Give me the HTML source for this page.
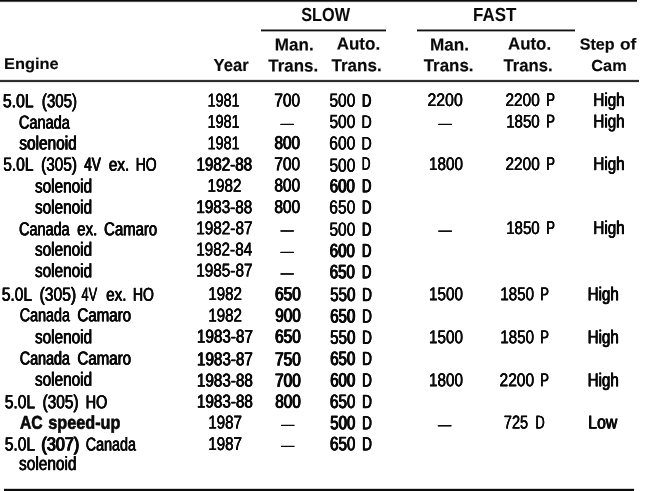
<!DOCTYPE html>
<html lang="en">
<head>
<meta charset="utf-8">
<title>Idle speed specifications</title>
<style>
html,body{margin:0;padding:0;background:#fff;}
body{width:650px;height:491px;overflow:hidden;position:relative;font-family:"Liberation Sans",sans-serif;color:#000;}
#tbl{position:absolute;left:0;top:0;width:650px;height:491px;overflow:hidden;background:#fff;}
.w{position:absolute;left:0;top:0;font-size:20px;line-height:20px;white-space:pre;transform-origin:0 0;color:#0a0a0a;}
.r{font-weight:400;-webkit-text-stroke:0.32px #0a0a0a;text-shadow:0.45px 0 0 #0a0a0a,-0.45px 0 0 #0a0a0a;}
.h0{-webkit-text-stroke-width:0.2px;text-shadow:0.3px 0 0 #0a0a0a,-0.3px 0 0 #0a0a0a;}
.h1{-webkit-text-stroke-width:0.42px;text-shadow:0.55px 0 0 #0a0a0a,-0.55px 0 0 #0a0a0a;}
.h2{-webkit-text-stroke-width:0.6px;text-shadow:0.7px 0 0 #0a0a0a,-0.7px 0 0 #0a0a0a;}
.b{font-weight:700;-webkit-text-stroke:0.18px #0a0a0a;}
.rule{position:absolute;}
</style>
</head>
<body>
<div id="tbl">
<div class="rule" style="left:0px;top:0px;width:637px;height:3px;background:linear-gradient(to bottom,#0c0c0c 0px,#0c0c0c 1px,#505050 1px,#505050 2px,#f0f0f0 2px,#f0f0f0 3px)"></div>
<div class="rule" style="left:261px;top:29px;width:125px;height:3px;background:linear-gradient(to bottom,#8c8c8c 0px,#8c8c8c 1px,#101010 1px,#101010 2px,#a8a8a8 2px,#a8a8a8 3px)"></div>
<div class="rule" style="left:417px;top:29px;width:158px;height:3px;background:linear-gradient(to bottom,#8c8c8c 0px,#8c8c8c 1px,#101010 1px,#101010 2px,#a8a8a8 2px,#a8a8a8 3px)"></div>
<div class="rule" style="left:0px;top:79px;width:639px;height:4px;background:linear-gradient(to bottom,#e4e4e4 0px,#e4e4e4 1px,#303030 1px,#303030 2px,#2c2c2c 2px,#2c2c2c 3px,#eaeaea 3px,#eaeaea 4px)"></div>
<div class="rule" style="left:4px;top:488px;width:630px;height:3px;background:linear-gradient(to bottom,#d0d0d0 0px,#d0d0d0 1px,#0c0c0c 1px,#0c0c0c 2px,#0c0c0c 2px,#0c0c0c 3px)"></div>
<div class="thead">
<div class="tr"><span class="w b" style="transform:matrix(0.8124,0.0005,0,0.9500,301.23,4.95);-webkit-text-stroke:0.05px #0a0a0a">SLOW</span> <span class="w b" style="transform:matrix(0.8459,0.0005,0,0.9500,473.12,4.75);-webkit-text-stroke:0.05px #0a0a0a">FAST</span></div>
<div class="tr"><div class="th"><span class="w b" style="transform:matrix(0.8200,0.0005,0,0.7850,4.01,55.56)">Engine</span></div> <div class="th"><span class="w b" style="transform:matrix(0.8305,0.0005,0,0.8750,213.54,56.03)">Year</span></div> <div class="th"><span class="w b" style="transform:matrix(0.8519,0.0005,0,0.8750,274.87,35.52)">Man.</span> <span class="w b" style="transform:matrix(0.8455,0.0005,0,0.8750,268.31,56.72)">Trans.</span></div> <div class="th"><span class="w b" style="transform:matrix(0.8505,0.0005,0,0.8750,336.65,34.73)">Auto.</span> <span class="w b" style="transform:matrix(0.8525,0.0005,0,0.8750,331.41,56.42)">Trans.</span></div> <div class="th"><span class="w b" style="transform:matrix(0.8589,0.0005,0,0.8750,429.96,35.52)">Man.</span> <span class="w b" style="transform:matrix(0.8455,0.0005,0,0.8750,423.71,56.42)">Trans.</span></div> <div class="th"><span class="w b" style="transform:matrix(0.8424,0.0005,0,0.8750,508.05,34.73)">Auto.</span> <span class="w b" style="transform:matrix(0.8351,0.0005,0,0.8750,503.51,56.42)">Trans.</span></div> <div class="th"><span class="w b" style="transform:matrix(0.8056,0.0005,0,0.7950,579.69,36.09)">Step</span> <span class="w b" style="transform:matrix(0.8643,0.0005,0,0.7950,619.99,36.09)">of</span> <span class="w b" style="transform:matrix(0.8173,0.0005,0,0.8000,591.32,57.40)">Cam</span></div></div>
</div>
<div class="tbody">
<div class="tr"><span class="w r" style="transform:matrix(0.7851,0.0005,0,0.9500,2.95,91.05)">5.0L</span> <span class="w r" style="transform:matrix(0.7530,0.0005,0,0.9500,41.86,91.05)">(305)</span> <span class="w r h0" style="transform:matrix(0.7196,0.0005,0,0.9250,207.61,90.88)">1981</span> <span class="w r" style="transform:matrix(0.7739,0.0005,0,0.9300,274.30,90.59)">700</span> <span class="w r h0" style="transform:matrix(0.7730,0.0005,0,0.9500,329.49,90.65)">500</span> <span class="w r h2" style="transform:matrix(0.6475,0.0005,0,0.9100,362.01,91.33)">D</span> <span class="w r h0" style="transform:matrix(0.7908,0.0005,0,0.9100,427.53,90.53)">2200</span> <span class="w r h0" style="transform:matrix(0.7678,0.0005,0,0.9100,505.54,90.53)">2200</span> <span class="w r h0" style="transform:matrix(0.6522,0.0005,0,0.9300,546.32,90.19)">P</span> <span class="w r" style="transform:matrix(0.7610,0.0005,0,0.9300,593.35,90.19)">High</span></div>
<div class="tr"><span class="w r" style="transform:matrix(0.7263,0.0005,0,0.9300,18.92,112.79)">Canada</span> <span class="w r h0" style="transform:matrix(0.7196,0.0005,0,0.9250,207.61,112.07)">1981</span> <span class="w r h0" style="transform:matrix(0.6538,0.0005,0,0.8000,280.66,114.87)">—</span> <span class="w r h0" style="transform:matrix(0.7730,0.0005,0,0.9500,329.49,111.95)">500</span> <span class="w r h0" style="transform:matrix(0.7087,0.0005,0,0.9100,361.55,112.63)">D</span> <span class="w r h0" style="transform:matrix(0.6635,0.0005,0,0.8000,438.47,114.97)">—</span> <span class="w r h0" style="transform:matrix(0.7535,0.0005,0,0.9100,506.17,112.03)">1850</span> <span class="w r h0" style="transform:matrix(0.6522,0.0005,0,0.9300,546.32,111.69)">P</span> <span class="w r" style="transform:matrix(0.7610,0.0005,0,0.9300,593.35,111.69)">High</span></div>
<div class="tr"><span class="w r h1" style="transform:matrix(0.7704,0.0005,0,0.9600,19.32,133.18)">solenoid</span> <span class="w r h0" style="transform:matrix(0.7196,0.0005,0,0.9250,207.61,133.47)">1981</span> <span class="w r h1" style="transform:matrix(0.7646,0.0005,0,0.9300,274.49,133.19)">800</span> <span class="w r h0" style="transform:matrix(0.7778,0.0005,0,0.9500,329.33,133.35)">600</span> <span class="w r h0" style="transform:matrix(0.7087,0.0005,0,0.9100,361.55,134.03)">D</span></div>
<div class="tr"><span class="w r" style="transform:matrix(0.7748,0.0005,0,0.9500,3.25,154.65)">5.0L</span> <span class="w r" style="transform:matrix(0.7662,0.0005,0,0.9500,41.15,154.65)">(305)</span> <span class="w r h2" style="transform:matrix(0.6757,0.0005,0,0.9500,84.34,154.65)">4V</span> <span class="w r" style="transform:matrix(0.7692,0.0005,0,0.9300,108.78,154.99)">ex.</span> <span class="w r" style="transform:matrix(0.6988,0.0005,0,0.9300,135.71,154.99)">HO</span> <span class="w r h1" style="transform:matrix(0.7584,0.0005,0,0.9250,196.44,154.67)">1982-88</span> <span class="w r" style="transform:matrix(0.7739,0.0005,0,0.9300,274.30,154.39)">700</span> <span class="w r h0" style="transform:matrix(0.7730,0.0005,0,0.9500,329.49,155.55)">500</span> <span class="w r h0" style="transform:matrix(0.6063,0.0005,0,0.9100,361.77,154.23)">D</span> <span class="w r h0" style="transform:matrix(0.7628,0.0005,0,0.9100,428.96,154.43)">1800</span> <span class="w r h0" style="transform:matrix(0.7678,0.0005,0,0.9100,505.54,154.43)">2200</span> <span class="w r h0" style="transform:matrix(0.6522,0.0005,0,0.9300,546.32,154.09)">P</span> <span class="w r" style="transform:matrix(0.7610,0.0005,0,0.9300,593.35,154.09)">High</span></div>
<div class="tr"><span class="w r" style="transform:matrix(0.7667,0.0005,0,0.9600,35.01,176.18)">solenoid</span> <span class="w r h0" style="transform:matrix(0.7617,0.0005,0,0.9250,207.56,175.97)">1982</span> <span class="w r" style="transform:matrix(0.7716,0.0005,0,0.9300,274.38,175.69)">800</span> <span class="w r h2" style="transform:matrix(0.7500,0.0005,0,0.9500,329.80,176.15)">600</span> <span class="w r h2" style="transform:matrix(0.6475,0.0005,0,0.9500,362.01,176.15)">D</span></div>
<div class="tr"><span class="w r" style="transform:matrix(0.7667,0.0005,0,0.9600,35.01,197.18)">solenoid</span> <span class="w r" style="transform:matrix(0.7616,0.0005,0,0.9250,196.32,197.38)">1983-88</span> <span class="w r" style="transform:matrix(0.7716,0.0005,0,0.9300,274.38,197.09)">800</span> <span class="w r h0" style="transform:matrix(0.7778,0.0005,0,0.9500,329.33,197.35)">650</span> <span class="w r h2" style="transform:matrix(0.6475,0.0005,0,0.9500,362.01,197.35)">D</span></div>
<div class="tr"><span class="w r" style="transform:matrix(0.7206,0.0005,0,0.9300,19.12,219.39)">Canada</span> <span class="w r" style="transform:matrix(0.7534,0.0005,0,0.9300,77.18,219.39)">ex.</span> <span class="w r" style="transform:matrix(0.7459,0.0005,0,0.9300,104.11,219.39)">Camaro</span> <span class="w r h0" style="transform:matrix(0.7671,0.0005,0,0.9250,196.16,218.57)">1982-87</span> <span class="w r h0" style="transform:matrix(0.6538,0.0005,0,0.8000,280.66,221.37)">—</span> <span class="w r h0" style="transform:matrix(0.7730,0.0005,0,0.9500,329.49,219.65)">500</span> <span class="w r h2" style="transform:matrix(0.6475,0.0005,0,0.9500,362.01,219.65)">D</span> <span class="w r h0" style="transform:matrix(0.6635,0.0005,0,0.8000,438.47,221.57)">—</span> <span class="w r h0" style="transform:matrix(0.7535,0.0005,0,0.9100,506.17,218.63)">1850</span> <span class="w r h0" style="transform:matrix(0.6522,0.0005,0,0.9300,546.32,218.29)">P</span> <span class="w r" style="transform:matrix(0.7610,0.0005,0,0.9300,593.35,218.29)">High</span></div>
<div class="tr"><span class="w r" style="transform:matrix(0.7667,0.0005,0,0.9600,35.01,239.48)">solenoid</span> <span class="w r h0" style="transform:matrix(0.7628,0.0005,0,0.9250,196.16,239.67)">1982-84</span> <span class="w r h0" style="transform:matrix(0.6538,0.0005,0,0.8000,280.66,242.97)">—</span> <span class="w r h2" style="transform:matrix(0.7500,0.0005,0,0.9500,329.80,240.75)">600</span> <span class="w r h2" style="transform:matrix(0.6475,0.0005,0,0.9500,362.01,240.75)">D</span></div>
<div class="tr"><span class="w r" style="transform:matrix(0.7667,0.0005,0,0.9600,35.01,260.78)">solenoid</span> <span class="w r h0" style="transform:matrix(0.7671,0.0005,0,0.9250,196.16,260.77)">1985-87</span> <span class="w r h0" style="transform:matrix(0.6538,0.0005,0,0.8000,280.66,264.37)">—</span> <span class="w r h2" style="transform:matrix(0.7500,0.0005,0,0.9700,329.80,261.71)">650</span> <span class="w r h2" style="transform:matrix(0.6475,0.0005,0,0.9500,362.01,262.05)">D</span></div>
<div class="tr"><span class="w r" style="transform:matrix(0.7748,0.0005,0,0.9500,1.85,284.55)">5.0L</span> <span class="w r" style="transform:matrix(0.7838,0.0005,0,0.9500,39.54,284.55)">(305)</span> <span class="w r h0" style="transform:matrix(0.6397,0.0005,0,0.9500,81.54,284.55)">4V</span> <span class="w r" style="transform:matrix(0.7613,0.0005,0,0.9300,106.18,284.89)">ex.</span> <span class="w r" style="transform:matrix(0.6988,0.0005,0,0.9300,132.91,284.89)">HO</span> <span class="w r h0" style="transform:matrix(0.7617,0.0005,0,0.9250,208.16,284.27)">1982</span> <span class="w r h2" style="transform:matrix(0.7679,0.0005,0,0.9500,275.10,284.05)">650</span> <span class="w r h1" style="transform:matrix(0.7563,0.0005,0,0.9700,330.17,284.41)">550</span> <span class="w r h1" style="transform:matrix(0.6706,0.0005,0,0.9500,362.24,284.75)">D</span> <span class="w r h0" style="transform:matrix(0.7628,0.0005,0,0.9300,428.96,284.39)">1500</span> <span class="w r h0" style="transform:matrix(0.7628,0.0005,0,0.9300,500.16,284.39)">1850</span> <span class="w r h0" style="transform:matrix(0.6522,0.0005,0,0.9300,540.32,284.39)">P</span> <span class="w r h1" style="transform:matrix(0.7553,0.0005,0,0.9300,587.67,284.39)">High</span></div>
<div class="tr"><span class="w r" style="transform:matrix(0.7177,0.0005,0,0.9300,19.72,305.49)">Canada</span> <span class="w r h1" style="transform:matrix(0.7540,0.0005,0,0.9300,77.42,305.49)">Camaro</span> <span class="w r h0" style="transform:matrix(0.7617,0.0005,0,0.9250,208.16,305.87)">1982</span> <span class="w r h2" style="transform:matrix(0.7656,0.0005,0,0.9500,275.18,305.65)">900</span> <span class="w r h2" style="transform:matrix(0.7500,0.0005,0,0.9700,330.20,306.01)">650</span> <span class="w r h1" style="transform:matrix(0.6706,0.0005,0,0.9500,362.24,306.35)">D</span></div>
<div class="tr"><span class="w r" style="transform:matrix(0.7667,0.0005,0,0.9600,35.01,326.88)">solenoid</span> <span class="w r" style="transform:matrix(0.7626,0.0005,0,0.9250,196.92,326.87)">1983-87</span> <span class="w r h2" style="transform:matrix(0.7679,0.0005,0,0.9500,275.10,326.65)">650</span> <span class="w r h1" style="transform:matrix(0.7563,0.0005,0,0.9700,330.17,327.21)">550</span> <span class="w r h1" style="transform:matrix(0.6706,0.0005,0,0.9500,362.24,327.55)">D</span> <span class="w r h0" style="transform:matrix(0.7628,0.0005,0,0.9300,428.96,327.49)">1500</span> <span class="w r h0" style="transform:matrix(0.7628,0.0005,0,0.9300,500.16,327.49)">1850</span> <span class="w r h0" style="transform:matrix(0.6522,0.0005,0,0.9300,540.32,327.49)">P</span> <span class="w r h1" style="transform:matrix(0.7553,0.0005,0,0.9300,587.67,327.49)">High</span></div>
<div class="tr"><span class="w r h1" style="transform:matrix(0.7147,0.0005,0,0.9300,19.83,348.69)">Canada</span> <span class="w r h1" style="transform:matrix(0.7540,0.0005,0,0.9300,77.42,348.69)">Camaro</span> <span class="w r h1" style="transform:matrix(0.7595,0.0005,0,0.9250,197.04,349.47)">1983-87</span> <span class="w r h2" style="transform:matrix(0.7679,0.0005,0,0.9500,275.10,349.25)">750</span> <span class="w r h2" style="transform:matrix(0.7500,0.0005,0,0.9700,330.20,348.51)">650</span> <span class="w r h1" style="transform:matrix(0.6706,0.0005,0,0.9500,362.24,348.85)">D</span></div>
<div class="tr"><span class="w r" style="transform:matrix(0.7667,0.0005,0,0.9600,35.01,369.38)">solenoid</span> <span class="w r" style="transform:matrix(0.7616,0.0005,0,0.9250,196.92,370.77)">1983-88</span> <span class="w r h2" style="transform:matrix(0.7679,0.0005,0,0.9500,275.10,370.55)">700</span> <span class="w r h2" style="transform:matrix(0.7500,0.0005,0,0.9700,330.20,370.01)">600</span> <span class="w r h1" style="transform:matrix(0.6706,0.0005,0,0.9500,362.24,370.35)">D</span> <span class="w r h0" style="transform:matrix(0.7628,0.0005,0,0.9300,428.96,370.39)">1800</span> <span class="w r h0" style="transform:matrix(0.7770,0.0005,0,0.9300,499.53,370.39)">2200</span> <span class="w r h0" style="transform:matrix(0.6522,0.0005,0,0.9300,540.32,370.39)">P</span> <span class="w r h1" style="transform:matrix(0.7553,0.0005,0,0.9300,587.67,370.39)">High</span></div>
<div class="tr"><span class="w r" style="transform:matrix(0.7748,0.0005,0,0.9500,4.85,392.05)">5.0L</span> <span class="w r" style="transform:matrix(0.7706,0.0005,0,0.9500,42.55,392.05)">(305)</span> <span class="w r" style="transform:matrix(0.7198,0.0005,0,0.9300,85.69,392.39)">HO</span> <span class="w r" style="transform:matrix(0.7616,0.0005,0,0.9250,196.92,391.77)">1983-88</span> <span class="w r h2" style="transform:matrix(0.7656,0.0005,0,0.9500,275.18,391.55)">800</span> <span class="w r h1" style="transform:matrix(0.7609,0.0005,0,0.9700,330.02,391.51)">650</span> <span class="w r h1" style="transform:matrix(0.6706,0.0005,0,0.9500,362.24,391.85)">D</span></div>
<div class="tr"><span class="w b" style="transform:matrix(0.7860,0.0005,0,0.9300,19.88,412.99);-webkit-text-stroke:0.7px #0a0a0a">AC</span> <span class="w b" style="transform:matrix(0.8104,0.0005,0,0.9300,48.32,412.99);-webkit-text-stroke:0.7px #0a0a0a">speed-up</span> <span class="w r h0" style="transform:matrix(0.7617,0.0005,0,0.9250,208.16,412.87)">1987</span> <span class="w r h0" style="transform:matrix(0.6538,0.0005,0,0.8000,281.16,415.97)">—</span> <span class="w r h2" style="transform:matrix(0.7456,0.0005,0,0.9700,330.35,412.71)">500</span> <span class="w r h1" style="transform:matrix(0.6706,0.0005,0,0.9500,362.24,413.05)">D</span> <span class="w r h0" style="transform:matrix(0.6635,0.0005,0,0.8000,438.07,416.07)">—</span> <span class="w r h0" style="transform:matrix(0.7276,0.0005,0,0.9300,503.86,412.79)">725</span> <span class="w r h0" style="transform:matrix(0.6457,0.0005,0,0.9300,535.43,412.79)">D</span> <span class="w r" style="transform:matrix(0.7930,0.0005,0,0.9300,588.21,412.79)">Low</span></div>
<div class="tr"><span class="w r" style="transform:matrix(0.7748,0.0005,0,0.9500,4.85,434.25)">5.0L</span> <span class="w r h2" style="transform:matrix(0.8095,0.0005,0,0.9500,41.44,434.25)">(307)</span> <span class="w r" style="transform:matrix(0.7177,0.0005,0,0.9300,85.72,434.59)">Canada</span> <span class="w r h0" style="transform:matrix(0.7617,0.0005,0,0.9250,208.16,434.27)">1987</span> <span class="w r h0" style="transform:matrix(0.6538,0.0005,0,0.8000,281.16,436.97)">—</span> <span class="w r h1" style="transform:matrix(0.7609,0.0005,0,0.9700,330.02,433.71)">650</span> <span class="w r h1" style="transform:matrix(0.6706,0.0005,0,0.9500,362.24,434.05)">D</span></div>
<div class="tr"><span class="w r" style="transform:matrix(0.7721,0.0005,0,0.9600,19.01,453.68)">solenoid</span></div>
</div>
</div>
</body>
</html>
